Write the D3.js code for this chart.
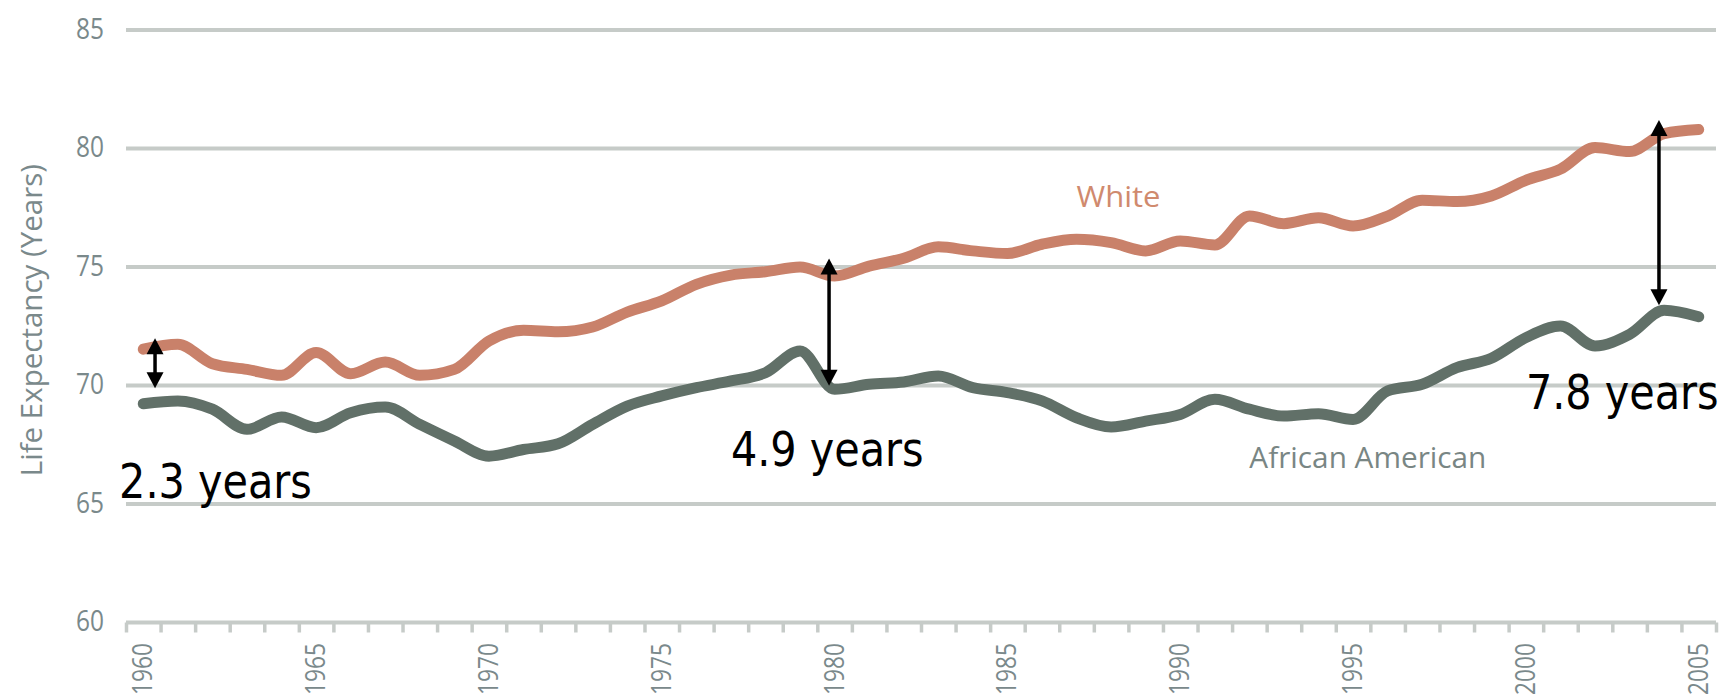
<!DOCTYPE html>
<html>
<head>
<meta charset="utf-8">
<script src="https://cdn.jsdelivr.net/npm/d3@7"></script>
<style>
  html, body { margin: 0; padding: 0; background: #ffffff; }
  svg { display: block; }
</style>
</head>
<body>
<svg id="chart" width="1731" height="699"></svg>
<script>
// ---------------- data ----------------
const years = d3.range(1960, 2006); // categories 1960..2005
const white = [71.53, 71.74, 70.92, 70.68, 70.43, 71.39, 70.50, 70.99, 70.43, 70.68,
               71.88, 72.33, 72.27, 72.47, 73.10, 73.57, 74.27, 74.66, 74.80, 75.00,
               74.62, 75.04, 75.37, 75.85, 75.68, 75.57, 75.96, 76.17, 76.03, 75.68,
               76.10, 75.93, 77.15, 76.83, 77.08, 76.73, 77.15, 77.82, 77.76, 78.00,
               78.66, 79.13, 80.04, 79.87, 80.63, 80.80];
const africanAmerican = [69.23, 69.35, 69.00, 68.15, 68.67, 68.22, 68.85, 69.09, 68.36, 67.66,
               67.02, 67.30, 67.54, 68.36, 69.13, 69.56, 69.91, 70.19, 70.54, 71.46,
               69.84, 70.05, 70.15, 70.40, 69.91, 69.70, 69.35, 68.64, 68.25, 68.50,
               68.78, 69.42, 69.00, 68.71, 68.81, 68.57, 69.77, 70.05, 70.75, 71.15,
               72.02, 72.51, 71.67, 72.16, 73.17, 72.90];
const yTicks = [60, 65, 70, 75, 80, 85];
const xLabelYears = [1960, 1965, 1970, 1975, 1980, 1985, 1990, 1995, 2000, 2005];
const yTitle = "Life Expectancy (Years)";
const seriesLabels = ["White", "African American"];
const gapYears = [1960.84, 1980.34, 2004.35];       // arrow positions
const gapTop = [71.99, 75.36, 81.2];
const gapBottom = [69.88, 69.99, 73.39];
const gapText = ["2.3 years", "4.9 years", "7.8 years"];
const gapTextX = [1959.8, 1977.5, 2000.5];
const gapTextY = [65.24, 66.6, 69.0];

// ---------------- scales ----------------
const svg = d3.select("#chart");
const x = d3.scaleBand().domain(years).range([126, 1716]).paddingInner(0).paddingOuter(0);
const xl = d3.scaleLinear().domain([1960, 2006]).range([126, 1716]);
const y = d3.scaleLinear().domain([60, 85]).range([622.5, 30]);
const bw = x.bandwidth();

const gridColor = "#c6cbc8";
const labelColor = "#7a898b";

// gridlines
svg.append("g").selectAll("line").data(yTicks).join("line")
  .attr("x1", xl(1960)).attr("x2", xl(2006))
  .attr("y1", d => y(d)).attr("y2", d => y(d))
  .attr("stroke", gridColor).attr("stroke-width", 4);

// x axis ticks (category boundaries)
const xAxis = d3.axisBottom(xl)
  .tickValues(d3.range(1960, 2007))
  .tickSize(10).tickSizeOuter(0).tickFormat("");
const gx = svg.append("g").attr("transform", `translate(0,${y(60)})`).call(xAxis);
gx.select(".domain").remove();
gx.selectAll(".tick line").attr("stroke", gridColor).attr("stroke-width", 3.5);

// x labels (category centres)
svg.append("g").selectAll("text").data(xLabelYears).join("text")
  .attr("transform", d => `translate(${x(d) + bw / 2 - 2},643) rotate(-90)`)
  .attr("text-anchor", "end")
  .attr("dominant-baseline", "central")
  .attr("font-family", "'Open Sans', sans-serif")
  .attr("font-size", 28)
  .attr("textLength", 52).attr("lengthAdjust", "spacingAndGlyphs")
  .attr("fill", labelColor)
  .text(d => d);

// y labels
svg.append("g").selectAll("text").data(yTicks).join("text")
  .attr("x", 104).attr("y", d => y(d) - 3)
  .attr("text-anchor", "end")
  .attr("dominant-baseline", "central")
  .attr("font-family", "'Open Sans', sans-serif")
  .attr("font-size", 29)
  .attr("textLength", 28).attr("lengthAdjust", "spacingAndGlyphs")
  .attr("fill", labelColor)
  .text(d => d);

// y title
svg.append("text")
  .attr("transform", `translate(30,${y(72.76)}) rotate(-90)`)
  .attr("text-anchor", "middle")
  .attr("dominant-baseline", "central")
  .attr("font-family", "'Open Sans', sans-serif")
  .attr("font-size", 29.5)
  .attr("fill", labelColor)
  .text(yTitle);

// lines
const line = d3.line()
  .x((d, i) => x(years[i]) + bw / 2)
  .y(d => y(d))
  .curve(d3.curveMonotoneX);

const series = [
  { values: white, color: "#c9816a" },
  { values: africanAmerican, color: "#617068" }
];
svg.append("g").selectAll("path").data(series).join("path")
  .attr("d", d => line(d.values))
  .attr("fill", "none")
  .attr("stroke", d => d.color)
  .attr("stroke-width", 11)
  .attr("stroke-linecap", "round")
  .attr("stroke-linejoin", "round");

// series labels
svg.append("text")
  .attr("x", xl(1987.5)).attr("y", y(77.53))
  .attr("font-family", "'Open Sans', sans-serif")
  .attr("font-size", 30)
  .attr("textLength", 84).attr("lengthAdjust", "spacingAndGlyphs")
  .attr("fill", "#d08a6e")
  .text(seriesLabels[0]);
svg.append("text")
  .attr("x", xl(1992.5)).attr("y", y(66.51))
  .attr("font-family", "'Open Sans', sans-serif")
  .attr("font-size", 30)
  .attr("textLength", 237).attr("lengthAdjust", "spacingAndGlyphs")
  .attr("fill", "#798684")
  .text(seriesLabels[1]);

// gap arrows
const headL = 16, headW = 8.5;
const ag = svg.append("g");
gapYears.forEach((yr, i) => {
  const ax = xl(yr), t = y(gapTop[i]), b = y(gapBottom[i]);
  ag.append("line").attr("x1", ax).attr("x2", ax)
    .attr("y1", t + headL - 1).attr("y2", b - headL + 1)
    .attr("stroke", "#000").attr("stroke-width", 3.5);
  ag.append("path")
    .attr("d", `M${ax},${t} L${ax - headW},${t + headL} L${ax + headW},${t + headL} Z`)
    .attr("fill", "#000");
  ag.append("path")
    .attr("d", `M${ax},${b} L${ax - headW},${b - headL} L${ax + headW},${b - headL} Z`)
    .attr("fill", "#000");
});

// gap texts (horizontally condensed to mimic Tahoma widths)
svg.append("g").selectAll("text").data(gapText).join("text")
  .attr("transform", (d, i) => `translate(${xl(gapTextX[i])},${y(gapTextY[i])}) scale(0.862,1)`)
  .attr("font-family", "'DejaVu Sans', sans-serif")
  .attr("font-size", 48)
  .attr("fill", "#000")
  .text(d => d);
</script>
</body>
</html>
